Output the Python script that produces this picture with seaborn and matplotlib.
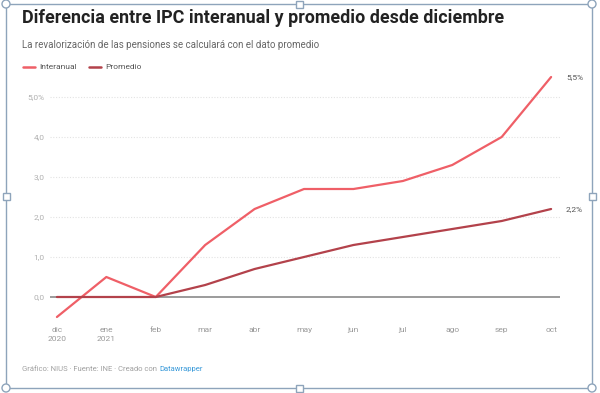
import pandas as pd
import matplotlib.pyplot as plt
import matplotlib.patches as mpatches
import seaborn as sns

# data
meses = ["dic\n2020", "ene\n2021", "feb", "mar", "abr", "may", "jun", "jul", "ago", "sep", "oct"]
interanual = [-0.5, 0.5, 0.0, 1.3, 2.2, 2.7, 2.7, 2.9, 3.3, 4.0, 5.5]
promedio = [0.0, 0.0, 0.0, 0.3, 0.7, 1.0, 1.3, 1.5, 1.7, 1.9, 2.2]
yticks = [0, 1, 2, 3, 4, 5]
ytick_labels = ["0,0", "1,0", "2,0", "3,0", "4,0", "5,0%"]

df = pd.DataFrame({
    "mes": list(range(len(meses))) * 2,
    "valor": interanual + promedio,
    "serie": ["Interanual"] * len(meses) + ["Promedio"] * len(meses),
})

sns.set_style("white")
plt.rcParams["font.family"] = ["Roboto", "DejaVu Sans"]

fig = plt.figure(figsize=(6, 3.93), dpi=100)
ax = fig.add_axes([50 / 600, 1 - 321 / 393, 510 / 600, 248 / 393])

colores = {"Interanual": "#ef5f67", "Promedio": "#b3424b"}

# grid + baseline
for t in yticks[1:]:
    ax.axhline(t, color="#e3e3e3", lw=0.8, ls=(0, (1, 1.5)), zorder=0)
ax.axhline(0, color="#8a8a8a", lw=1.2, zorder=1)

sns.lineplot(data=df, x="mes", y="valor", hue="serie", palette=colores,
             lw=1.6, ax=ax, legend=False, zorder=3)

ax.set_xlim(-0.14, 10.18)
ax.set_ylim(-0.6, 5.6)
ax.set_xticks(range(len(meses)))
ax.set_xticklabels(meses, fontsize=6, color="#9a9a9a", linespacing=1.6)
ax.set_yticks(yticks)
ax.set_yticklabels(ytick_labels, fontsize=6, color="#b0b0b0")
ax.tick_params(length=0, pad=4)
ax.set_xlabel("")
ax.set_ylabel("")
for s in ax.spines.values():
    s.set_visible(False)

# end labels
ax.text(10.3, interanual[-1], "5,5%", fontsize=6, color="#555555", va="center")
ax.text(10.3, promedio[-1], "2,2%", fontsize=6, color="#555555", va="center")

# titles
fig.text(22 / 600, 1 - 18 / 393, "Diferencia entre IPC interanual y promedio desde diciembre",
         fontsize=12.9, fontweight="bold", color="#222222", va="center")
fig.text(22 / 600, 1 - 45 / 393, "La revalorización de las pensiones se calculará con el dato promedio",
         fontsize=7, color="#666666", va="center")

# legend
ly = 1 - 67 / 393
for nombre, x0 in [("Interanual", 23), ("Promedio", 89)]:
    fig.add_artist(plt.Line2D([x0 / 600, (x0 + 12) / 600], [ly, ly], color=colores[nombre],
                              lw=1.8, transform=fig.transFigure))
    fig.text((x0 + 16) / 600, ly, nombre, fontsize=6, color="#555555", va="center")

# footer
pie = fig.text(22 / 600, 1 - 369 / 393, "Gráfico: NIUS · Fuente: INE · Creado con ",
               fontsize=5.5, color="#a0a0a0", va="center")
fig.canvas.draw()
bb = pie.get_window_extent()
fig.text(bb.x1 / 600, 1 - 369 / 393, "Datawrapper", fontsize=5.5, color="#3a9ad9", va="center")

# selection frame around the chart
marco = "#8ea4bb"
x0, x1 = 6 / 600, 592 / 600
y0, y1 = 1 - 388 / 393, 1 - 4 / 393
fig.add_artist(mpatches.Rectangle((x0, y0), x1 - x0, y1 - y0, fill=False, ec=marco, lw=1,
                                  transform=fig.transFigure))
for cx, cy in [(x0, y0), (x0, y1), (x1, y0), (x1, y1)]:
    fig.add_artist(mpatches.Ellipse((cx, cy), 8 / 600, 8 / 393, fc="white", ec=marco, lw=1,
                                    transform=fig.transFigure, zorder=5))
for cx, cy in [((x0 + x1) / 2, y0), ((x0 + x1) / 2, y1), (x0, (y0 + y1) / 2), (x1, (y0 + y1) / 2)]:
    fig.add_artist(mpatches.Rectangle((cx - 3.5 / 600, cy - 3.5 / 393), 7 / 600, 7 / 393,
                                      fc="white", ec=marco, lw=1, transform=fig.transFigure, zorder=5))

plt.savefig("out.png", dpi=100)
plt.close()
